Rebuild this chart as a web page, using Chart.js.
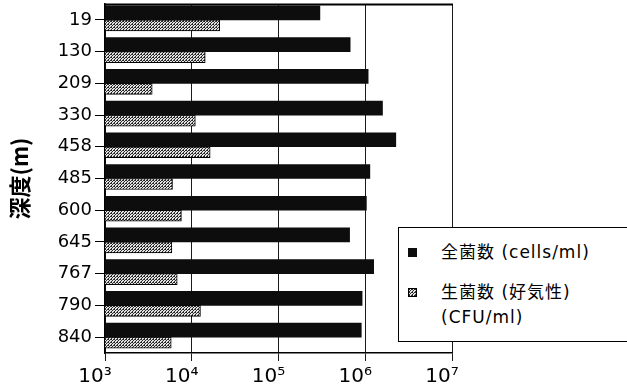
<!DOCTYPE html>
<html>
<head>
<meta charset="utf-8">
<script src="https://cdn.jsdelivr.net/npm/chart.js@4"></script>
<style>
  html, body { margin: 0; padding: 0; background: #fff; }
  #wrap { position: relative; width: 627px; height: 390px; overflow: hidden; }
  #legend {
    position: absolute; left: 398px; top: 227px; width: 260px; height: 115px;
    border: 1px solid #000; background: #fff; box-sizing: border-box;
    font-family: "DejaVu Sans", "Noto Sans CJK JP", sans-serif; font-size: 17px;
    letter-spacing: 1px; color: #000;
  }
  .item { position: absolute; left: 9px; }
  .sw { position: absolute; left: 0; width: 9px; height: 9px; box-sizing: border-box; }
  .tx { position: absolute; left: 33px; white-space: pre; line-height: 25px; }
</style>
</head>
<body>
<div id="wrap">
  <canvas id="c" width="627" height="390"></canvas>
  <div id="legend"></div>
</div>
<script>
// Sampling depths (m) and bacterial counts per ml
const depths = ['19', '130', '209', '330', '458', '485', '600', '645', '767', '790', '840'];
const totalCounts = [3.0e5, 6.7e5, 1.08e6, 1.58e6, 2.25e6, 1.13e6, 1.03e6, 6.6e5, 1.25e6, 9.2e5, 9.0e5];
const viableCounts = [2.1e4, 1.43e4, 3.5e3, 1.1e4, 1.63e4, 6.0e3, 7.6e3, 5.9e3, 6.8e3, 1.26e4, 5.8e3];
const seriesNames = ['全菌数 (cells/ml)', '生菌数 (好気性)\n(CFU/ml)'];
const xTickValues = [1e3, 1e4, 1e5, 1e6, 1e7];
const xTickLabels = ['10³', '10⁴', '10⁵', '10⁶', '10⁷'];
const axisTitle = '深度(m)';

// Dotted screen-tone fill for the viable-count bars
const tile = document.createElement('canvas');
tile.width = 3; tile.height = 3;
(function () {
  const t = tile.getContext('2d');
  t.fillStyle = '#e2e2e2'; t.fillRect(0, 0, 3, 3);
  t.fillStyle = '#2a2a2a';
  t.fillRect(0, 0, 1, 1);
  t.fillRect(2, 0, 1, 1);
  t.fillRect(1, 1, 1, 1);
  t.fillRect(0, 2, 1, 1);
})();
const ctx = document.getElementById('c').getContext('2d');
const tone = ctx.createPattern(tile, 'repeat');
const toneURL = tile.toDataURL();

// Top edge of the plot frame
const frameTop = {
  id: 'frameTop',
  afterDatasetsDraw(chart) {
    const { ctx, chartArea: { left, right, top } } = chart;
    ctx.save();
    ctx.strokeStyle = '#000';
    ctx.lineWidth = 2;
    ctx.beginPath();
    ctx.moveTo(left, top + 0.5);
    ctx.lineTo(right + 1, top + 0.5);
    ctx.stroke();
    ctx.restore();
  }
};

// Boxed legend built from the datasets
const boxLegend = {
  id: 'boxLegend',
  afterUpdate(chart) {
    const box = document.getElementById('legend');
    box.innerHTML = '';
    const tops = [12, 52];
    chart.data.datasets.forEach((ds, i) => {
      const item = document.createElement('div');
      item.className = 'item';
      item.style.top = tops[i] + 'px';
      const sw = document.createElement('div');
      sw.className = 'sw';
      sw.style.top = '8px';
      if (ds.backgroundColor instanceof CanvasPattern) {
        sw.style.backgroundImage = 'url(' + toneURL + ')';
        sw.style.border = '1px solid #000';
      } else {
        sw.style.background = ds.backgroundColor;
      }
      const tx = document.createElement('div');
      tx.className = 'tx';
      tx.textContent = ds.label;
      item.appendChild(sw);
      item.appendChild(tx);
      box.appendChild(item);
    });
  }
};

new Chart(ctx, {
  type: 'bar',
  data: {
    labels: depths,
    datasets: [
      { label: seriesNames[0], data: totalCounts, backgroundColor: '#0d0d0d', barThickness: 14, borderWidth: 0 },
      { label: seriesNames[1], data: viableCounts, backgroundColor: tone, borderColor: '#000', borderWidth: 1, barThickness: 11 }
    ]
  },
  options: {
    indexAxis: 'y',
    responsive: false,
    animation: false,
    layout: { padding: { top: 4, right: 175, left: 0, bottom: 0 } },
    plugins: { legend: { display: false }, tooltip: { enabled: false } },
    scales: {
      x: {
        type: 'logarithmic',
        min: 1e3,
        max: 1e7,
        afterBuildTicks: (s) => { s.ticks = xTickValues.map(v => ({ value: v, major: true })); },
        afterFit: (s) => { s.height = 37; s.paddingLeft = 0; s.paddingRight = 0; },
        grid: { color: '#1a1a1a', lineWidth: 1, tickLength: 8, drawOnChartArea: true },
        border: { color: '#000', width: 1.5 },
        ticks: {
          autoSkip: false, maxRotation: 0, padding: 4, labelOffset: -10, color: '#000',
          font: { family: 'DejaVu Sans', size: 20 },
          callback: (v, i) => xTickLabels[i]
        }
      },
      y: {
        afterFit: (s) => { s.width = 105; s.paddingTop = 0; s.paddingBottom = 0; },
        grid: { drawOnChartArea: false, offset: false, color: '#000', tickLength: 10 },
        border: { color: '#000', width: 1.5 },
        ticks: { autoSkip: false, padding: 3, color: '#000', font: { family: 'DejaVu Sans', size: 18 } },
        title: {
          display: true, text: axisTitle, color: '#000',
          font: { family: 'Noto Sans CJK JP', size: 22, weight: 'bold' },
          padding: { top: 6, bottom: 0 }
        }
      }
    }
  },
  plugins: [frameTop, boxLegend]
});
</script>
</body>
</html>
